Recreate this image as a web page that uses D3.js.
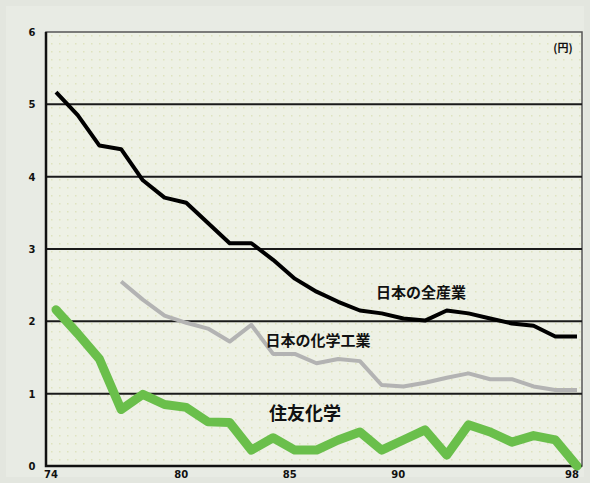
<!DOCTYPE html>
<html>
<head>
<meta charset="utf-8">
<script src="https://cdnjs.cloudflare.com/ajax/libs/d3/7.8.5/d3.min.js"></script>
<style>
  body { margin: 0; background: #e3e6df; }
  svg { display: block; }
</style>
</head>
<body>
<div id="chart"></div>
<script>
  // years on the x axis (19xx)
  var years = d3.range(74, 99);
  var xTickValues = [74, 80, 85, 90, 98];
  var yTickValues = [0, 1, 2, 3, 4, 5, 6];

  // 日本の全産業
  var allIndustry = [5.17, 4.85, 4.43, 4.38, 3.95, 3.71, 3.64, 3.36, 3.08, 3.08, 2.85, 2.59,
                     2.41, 2.27, 2.15, 2.11, 2.04, 2.01, 2.15, 2.11, 2.04, 1.97, 1.94, 1.79, 1.79];
  // 日本の化学工業 (from 1977)
  var chemYears = d3.range(77, 99);
  var chemIndustry = [2.55, 2.3, 2.08, 1.98, 1.9, 1.72, 1.95, 1.55, 1.55, 1.42, 1.48, 1.45,
                      1.12, 1.1, 1.15, 1.22, 1.28, 1.2, 1.2, 1.1, 1.05, 1.05];
  // 住友化学
  var sumitomo = [2.16, 1.83, 1.48, 0.78, 0.99, 0.85, 0.81, 0.61, 0.6, 0.22, 0.39, 0.22,
                  0.22, 0.36, 0.47, 0.22, 0.36, 0.5, 0.15, 0.57, 0.47, 0.33, 0.42, 0.36, 0.0];

  var width = 590, height = 483;
  var plotL = 46, plotR = 582, plotT = 32, plotB = 466;

  var svg = d3.select("#chart").append("svg")
      .attr("width", width)
      .attr("height", height);

  // dotted plot background
  var defs = svg.append("defs");
  var pat = defs.append("pattern")
      .attr("id", "dots")
      .attr("width", 8).attr("height", 8)
      .attr("patternUnits", "userSpaceOnUse");
  pat.append("rect").attr("width", 8).attr("height", 8).attr("fill", "#eef1e5");
  pat.append("rect").attr("x", 3).attr("y", 3).attr("width", 1.5).attr("height", 1.5).attr("fill", "#dfe3bf");

  svg.append("rect")
      .attr("x", 6).attr("y", 6)
      .attr("width", width - 12).attr("height", height - 12)
      .attr("fill", "#e8ebe4");

  svg.append("rect")
      .attr("x", plotL).attr("y", plotT)
      .attr("width", plotR - plotL).attr("height", plotB - plotT)
      .attr("fill", "url(#dots)")
      .attr("stroke", "#555")
      .attr("stroke-width", 1.5);

  var x = d3.scaleLinear().domain([74, 98]).range([56, 577]);
  var y = d3.scaleLinear().domain([0, 6]).range([plotB, plotT]);

  // gridlines
  svg.selectAll(".grid")
      .data(yTickValues.filter(function(d) { return d > 0 && d < 6; }))
      .enter().append("line")
      .attr("class", "grid")
      .attr("x1", plotL).attr("x2", plotR)
      .attr("y1", function(d) { return y(d); })
      .attr("y2", function(d) { return y(d); })
      .attr("stroke", "#1a1a1a")
      .attr("stroke-width", 2);

  // left / bottom frame
  svg.append("path")
      .attr("d", "M" + plotL + "," + plotT + "V" + plotB + "H" + plotR)
      .attr("fill", "none")
      .attr("stroke", "#111")
      .attr("stroke-width", 2.5);

  // tick labels
  svg.selectAll(".ylab")
      .data(yTickValues)
      .enter().append("text")
      .attr("x", 32)
      .attr("y", function(d) { return y(d) + 4; })
      .attr("text-anchor", "middle")
      .attr("font-family", "DejaVu Sans")
      .attr("font-weight", "bold")
      .attr("font-size", 10)
      .attr("fill", "#111")
      .text(function(d) { return d; });

  svg.selectAll(".xlab")
      .data(xTickValues)
      .enter().append("text")
      .attr("x", function(d) { return x(d) - 5; })
      .attr("y", 478)
      .attr("text-anchor", "middle")
      .attr("font-family", "DejaVu Sans")
      .attr("font-weight", "bold")
      .attr("font-size", 10)
      .attr("fill", "#111")
      .text(function(d) { return d; });

  var line = d3.line()
      .x(function(d) { return x(d[0]); })
      .y(function(d) { return y(d[1]); });

  svg.append("path")
      .datum(chemYears.map(function(yr, i) { return [yr, chemIndustry[i]]; }))
      .attr("d", line)
      .attr("fill", "none")
      .attr("stroke", "#b3b3b3")
      .attr("stroke-width", 4)
      .attr("stroke-linejoin", "round");

  svg.append("path")
      .datum(years.map(function(yr, i) { return [yr, allIndustry[i]]; }))
      .attr("d", line)
      .attr("fill", "none")
      .attr("stroke", "#000")
      .attr("stroke-width", 4)
      .attr("stroke-linejoin", "round");

  svg.append("path")
      .datum(years.map(function(yr, i) { return [yr, sumitomo[i]]; }))
      .attr("d", line)
      .attr("fill", "none")
      .attr("stroke", "#6abf4b")
      .attr("stroke-width", 9)
      .attr("stroke-linejoin", "round")
      .attr("stroke-linecap", "round");

  // labels
  var font = "'Noto Sans CJK JP', sans-serif";
  svg.append("text").attr("x", 421).attr("y", 298)
      .attr("text-anchor", "middle").attr("font-family", font)
      .attr("font-weight", "bold").attr("font-size", 15).attr("fill", "#111")
      .text("日本の全産業");
  svg.append("text").attr("x", 318).attr("y", 346)
      .attr("text-anchor", "middle").attr("font-family", font)
      .attr("font-weight", "bold").attr("font-size", 15).attr("fill", "#111")
      .text("日本の化学工業");
  svg.append("text").attr("x", 305).attr("y", 420)
      .attr("text-anchor", "middle").attr("font-family", font)
      .attr("font-weight", "bold").attr("font-size", 18).attr("fill", "#111")
      .text("住友化学");
  svg.append("text").attr("x", 563).attr("y", 52)
      .attr("text-anchor", "middle").attr("font-family", font)
      .attr("font-weight", "bold").attr("font-size", 11).attr("fill", "#111")
      .text("(円)");
</script>
</body>
</html>
